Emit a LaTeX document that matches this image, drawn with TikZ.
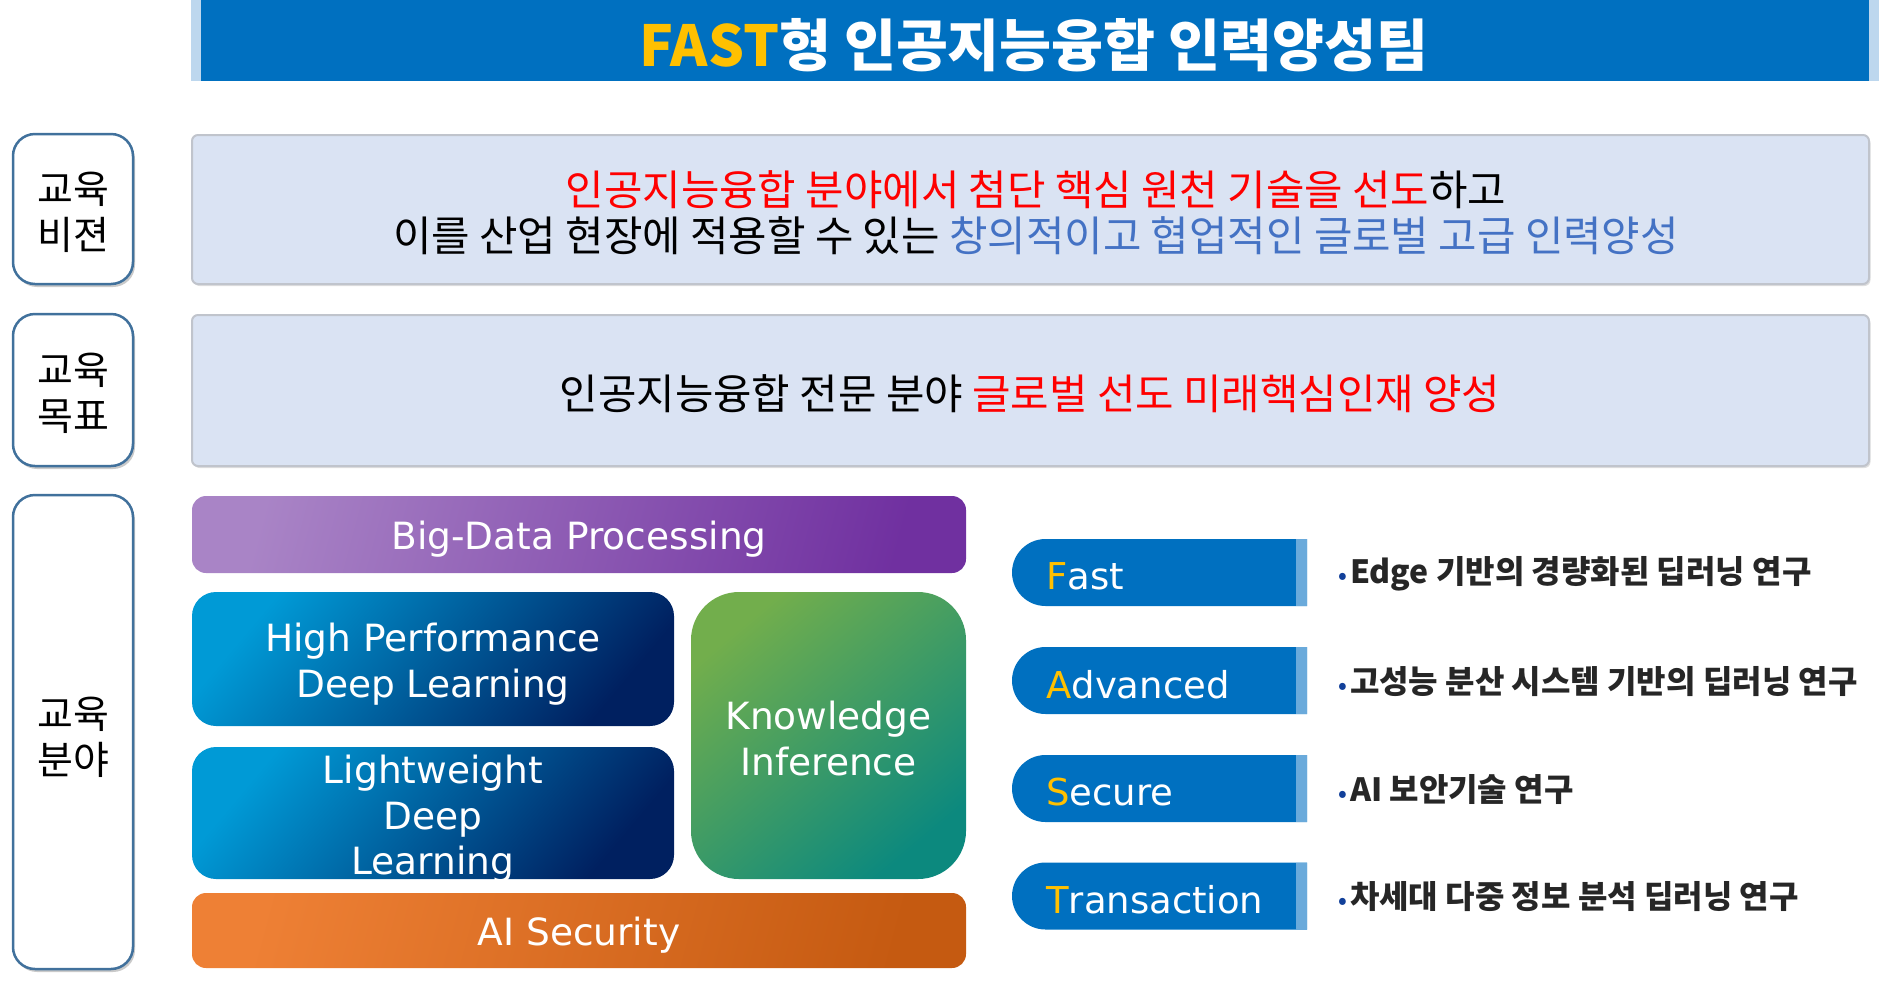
\documentclass[tikz,border=0pt]{standalone}
\usepackage{fontspec}
\setmainfont{DejaVu Sans}
\newfontfamily\kr{Noto Sans CJK KR}
\newfontfamily\lat{DejaVu Sans}
\usetikzlibrary{shapes.misc,shadows}
\definecolor{barblue}{HTML}{0070C0}
\definecolor{barlight}{HTML}{BDD7EE}
\definecolor{gold}{HTML}{FFC000}
\definecolor{labborder}{HTML}{41719C}
\definecolor{panelfill}{HTML}{DAE3F3}
\definecolor{panelline}{HTML}{C0C4CC}
\definecolor{txtblue}{HTML}{4472C4}
\definecolor{txtred}{HTML}{FF0000}
\definecolor{purpA}{HTML}{A984C6}
\definecolor{purpB}{HTML}{7030A0}
\definecolor{blueA}{HTML}{009AD6}
\definecolor{blueM}{HTML}{0070B0}
\definecolor{blueB}{HTML}{002060}
\definecolor{greenA}{HTML}{72AE4C}
\definecolor{greenB}{HTML}{0C897E}
\definecolor{orA}{HTML}{EE8035}
\definecolor{orB}{HTML}{C55A11}
\definecolor{striplight}{HTML}{6AAADB}
\definecolor{bulletblue}{HTML}{12409A}
\definecolor{desctext}{HTML}{262626}
\tikzset{
  labbox/.style={draw=labborder, line width=2.5pt, fill=white, rounded corners=22pt,
    drop shadow={shadow xshift=2pt, shadow yshift=-3pt, opacity=0.35, fill=black!60},
    minimum width=120pt, inner sep=0pt},
  labtext/.style={font=\kr\fontsize{39}{46}\selectfont, align=center, inner sep=0pt},
  panel/.style={draw=panelline, line width=2pt, fill=panelfill, rounded corners=6pt,
    drop shadow={shadow xshift=1.5pt, shadow yshift=-2pt, opacity=0.25, fill=black!50},
    minimum width=1677pt, inner sep=0pt},
  paneltext/.style={font=\kr\fontsize{41.8}{46}\selectfont, align=center, inner sep=0pt},
  area/.style={text=white, font=\lat\fontsize{37.5}{46}\selectfont, align=center, inner sep=0pt},
  pill/.style={rounded rectangle, rounded rectangle right arc=none, fill=barblue,
    minimum width=295pt, minimum height=67pt, inner sep=0pt},
  pillstrip/.style={fill=striplight, minimum width=11pt, minimum height=67pt, inner sep=0pt},
  pilltext/.style={text=white, font=\lat\fontsize{37}{44}\selectfont, anchor=west, inner sep=0pt},
  desc/.style={text=desctext, font=\kr\bfseries\fontsize{32}{38}\selectfont, anchor=west, inner sep=0pt},
}
\begin{document}
\begin{tikzpicture}[x=1pt,y=-1pt]
\useasboundingbox (0,0) rectangle (1879,986);
% title bar
\node[fill=barlight, minimum width=1688pt, minimum height=81pt, inner sep=0pt] (titlestrip) at (1035,40.5) {};
\node[fill=barblue, minimum width=1668pt, minimum height=81pt, inner sep=0pt] (titlebar) at (1035,40.5) {};
\node[font=\kr\bfseries\fontsize{56.5}{60}\selectfont, text=white, inner sep=0pt] (title) at (1034,45)
  {\textcolor{gold}{FAST}형 인공지능융합 인력양성팀};
% left labels
\node[labbox, minimum height=150pt] (lab1) at (73,209) {};
\node[labtext] (lab1text) at (73,212) {교육\\비젼};
\node[labbox, minimum height=152pt] (lab2) at (73,390) {};
\node[labtext] (lab2text) at (73,393) {교육\\목표};
\node[labbox, minimum height=474pt] (lab3) at (73,732) {};
\node[labtext] (lab3text) at (73,737) {교육\\분야};
% panels
\node[panel, minimum height=149pt] (vision) at (1030.5,209.5) {};
\node[paneltext] (visiontext) at (1036,213)
  {\textcolor{txtred}{인공지능융합 분야에서 첨단 핵심 원천 기술을 선도}하고\\
   이를 산업 현장에 적용할 수 있는 \textcolor{txtblue}{창의적이고 협업적인 글로벌 고급 인력양성}};
\node[panel, minimum height=151pt] (goal) at (1030.5,390.5) {};
\node[paneltext] (goaltext) at (1030,394)
  {인공지능융합 전문 분야 \textcolor{txtred}{글로벌 선도 미래핵심인재 양성}};
% areas
\node[rounded corners=14pt, left color=purpA, right color=purpB, shading angle=75,
  minimum width=774pt, minimum height=77pt, inner sep=0pt] (bigdata) at (579,534.5) {};
\node[area] (bigdatatext) at (579,539.5) {Big-Data Processing};
\node[rounded corners=24pt, left color=blueA, middle color=blueM, right color=blueB, shading angle=50,
  minimum width=482pt, minimum height=134pt, inner sep=0pt] (hpdl) at (433,659) {};
\node[area] (hpdltext) at (433,664) {High Performance\\Deep Learning};
\node[rounded corners=24pt, left color=blueA, middle color=blueM, right color=blueB, shading angle=50,
  minimum width=482pt, minimum height=132pt, inner sep=0pt] (lwdl) at (433,813) {};
\node[area, font=\lat\fontsize{37.5}{45.5}\selectfont] (lwdltext) at (433,819) {Lightweight\\Deep\\Learning};
\node[rounded corners=48pt, left color=greenA, right color=greenB, shading angle=40,
  minimum width=275pt, minimum height=287pt, inner sep=0pt] (ki) at (828.5,735.5) {};
\node[area] (kitext) at (828.5,739) {Knowledge\\Inference};
\node[rounded corners=14pt, left color=orA, right color=orB, shading angle=75,
  minimum width=774pt, minimum height=75pt, inner sep=0pt] (aisec) at (579,930.5) {};
\node[area] (aisectext) at (579,935.5) {AI Security};
% FAST pills
\foreach \n/\y/\first/\rest/\d in {
  fast/572.5/F/ast/{Edge 기반의 경량화된 딥러닝 연구},
  adv/680.5/A/dvanced/{고성능 분산 시스템 기반의 딥러닝 연구},
  sec/788.5/S/ecure/{AI 보안기술 연구},
  tra/896/T/ransaction/{차세대 다중 정보 분석 딥러닝 연구}}{
  \node[pill] (\n) at (1159.5,\y) {};
  \node[pillstrip] (\n strip) at (1301.5,\y) {};
  \node[pilltext] (\n text) at (1046,\y+4) {\textcolor{gold}{\first}\rest};
  \node[desc] (\n desc) at (1338,\y+1) {\textcolor{bulletblue}{\fontsize{22}{22}\selectfont•}\hspace{3pt}\d};
}
\end{tikzpicture}
\end{document}
